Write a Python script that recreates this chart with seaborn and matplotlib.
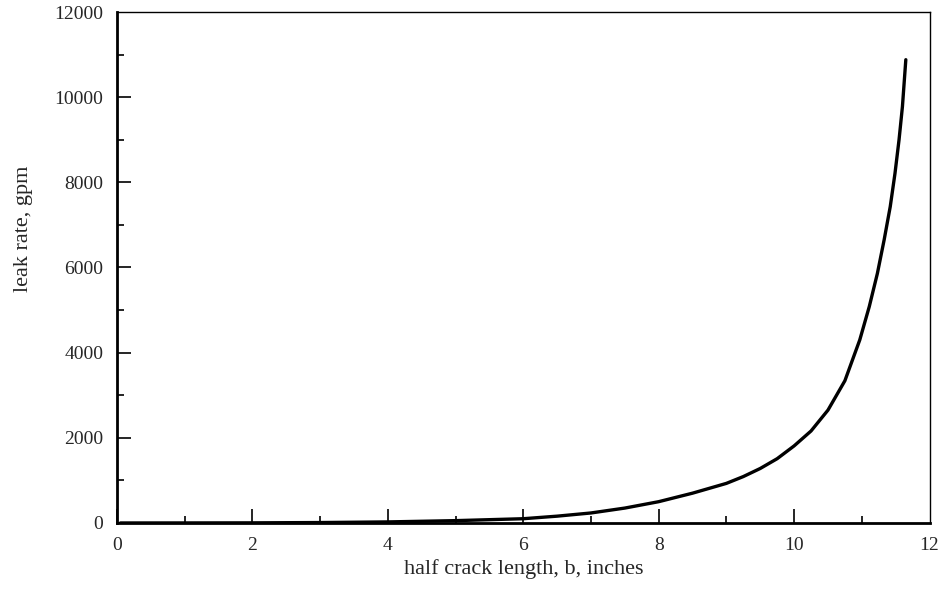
import matplotlib
matplotlib.use("Agg")
import matplotlib.pyplot as plt
from matplotlib.ticker import MultipleLocator
import seaborn as sns
import pandas as pd

# values
crack_b = [0.05, 1.0, 2.0, 3.0, 4.0, 5.0, 6.0, 6.5, 7.0, 7.5, 8.0, 8.5, 9.0,
           9.25, 9.5, 9.75, 10.0, 10.25, 10.5, 10.75, 10.97, 11.11, 11.23,
           11.33, 11.42, 11.49, 11.55, 11.6, 11.65]
leak_gpm = [0, 1, 3, 10, 25, 55, 100, 160, 235, 350, 500, 700, 930,
            1090, 1280, 1510, 1810, 2160, 2650, 3340, 4300, 5080, 5860,
            6650, 7430, 8210, 9000, 9780, 10880]

df = pd.DataFrame({"b": crack_b, "leak": leak_gpm})

sns.set_style("white")
plt.rcParams["font.family"] = ["Liberation Serif", "DejaVu Serif"]

fig = plt.figure(figsize=(9.43, 5.92), dpi=100)
ax = fig.add_axes([0.1241, 0.1166, 0.9857 - 0.1241, 0.9797 - 0.1166])

sns.lineplot(data=df, x="b", y="leak", color="black", linewidth=2.4, ax=ax)

ax.set_xlim(0, 12)
ax.set_ylim(0, 12000)
ax.xaxis.set_major_locator(MultipleLocator(2))
ax.xaxis.set_minor_locator(MultipleLocator(1))
ax.yaxis.set_major_locator(MultipleLocator(2000))
ax.yaxis.set_minor_locator(MultipleLocator(1000))
ax.tick_params(which="both", direction="in", bottom=True, left=True,
               top=False, right=False, labelsize=14, color="black", width=1.2)
ax.tick_params(which="major", length=10, pad=10)
ax.tick_params(which="minor", length=5)
ax.tick_params(axis="y", pad=10)

for side in ["left", "bottom"]:
    ax.spines[side].set_linewidth(2)
    ax.spines[side].set_color("black")
for side in ["top", "right"]:
    ax.spines[side].set_linewidth(1)
    ax.spines[side].set_color("black")

ax.set_xlabel("half crack length, b, inches", fontsize=16, labelpad=4)
ax.set_ylabel("leak rate, gpm", fontsize=16)
ax.yaxis.set_label_coords(-0.103, 0.575)

# no tick marks at the far ends (12 and 12000), only labels
fig.canvas.draw()
for t in ax.xaxis.get_major_ticks():
    if abs(t.get_loc() - 12) < 1e-6:
        t.tick1line.set_visible(False)
for t in ax.yaxis.get_major_ticks():
    if abs(t.get_loc() - 12000) < 1e-6:
        t.tick1line.set_visible(False)

fig.savefig("out.png", dpi=100)
